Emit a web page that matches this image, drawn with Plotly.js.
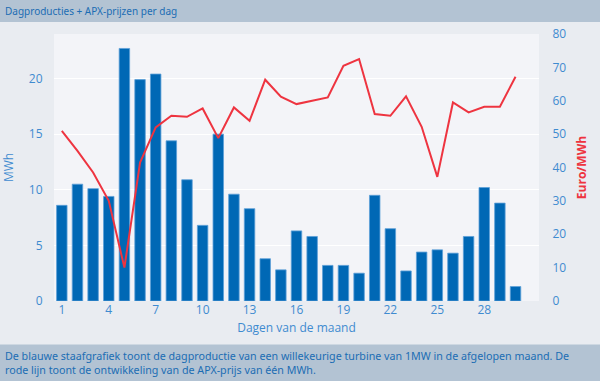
<!DOCTYPE html>
<html><head><meta charset="utf-8">
<script src="https://cdn.plot.ly/plotly-3.0.1.min.js"></script>
<style>html,body{margin:0;padding:0;background:#e9ecf1;}#chart{width:600px;height:381px;}</style>
</head><body><div id="chart"></div>
<script>
const days = [1,2,3,4,5,6,7,8,9,10,11,12,13,14,15,16,17,18,19,20,21,22,23,24,25,26,27,28,29,30];
const production = [8.6,10.5,10.1,9.4,22.7,19.9,20.4,14.4,10.9,6.8,15.0,9.6,8.3,3.8,2.8,6.3,5.8,3.2,3.2,2.5,9.5,6.5,2.7,4.4,4.6,4.3,5.8,10.2,8.8,1.3];
const price = [51,45,38.5,30,10,41.5,52,55.5,55.2,57.7,48.8,58,54,66.3,61.2,59,60,61,70.5,72.5,56,55.5,61.3,52.2,37.2,59.5,56.5,58.2,58.2,67.2];
const xTicks = [1,4,7,10,13,16,19,22,25,28];
const leftTicks = [0,5,10,15,20];
const rightTicks = [0,10,20,30,40,50,60,70,80];

const tickColor = '#3f8bd0';
const blue = '#0068b5';
const red = '#ee3440';
const band = '#b3c3d3';

// plot area: x 54..539, y 34..301
const L=54, R=61, T=34, B=80, W=485, H=267;
const px = v => (v - L)/W;
const py = v => (T + H - v)/H;

const traces = [
  {type:'bar', x:days, y:production, yaxis:'y', marker:{color:blue, line:{color:'#5d9fd8', width:0.8}}, hoverinfo:'skip'},
  {type:'scatter', mode:'lines', x:days, y:price, yaxis:'y2', line:{color:red, width:2}, hoverinfo:'skip'}
];

const layout = {
  width:600, height:381,
  margin:{l:L, r:R, t:T, b:B, pad:0},
  paper_bgcolor:'#e9ecf1',
  plot_bgcolor:'#f3f4f8',
  showlegend:false,
  bargap:0.33,
  font:{family:'Open Sans, sans-serif', size:12, color:tickColor},
  xaxis:{range:[0.5,31.5], tickvals:xTicks, ticktext:xTicks.map(String), showgrid:false, zeroline:false,
    tickfont:{color:tickColor, size:12}, ticks:'', ticklen:0,
    title:{text:'Dagen van de maand', font:{color:tickColor, size:12}, standoff:6}},
  yaxis:{range:[0,24], tickvals:leftTicks, ticktext:leftTicks.map(String), gridcolor:'#ffffff', gridwidth:1, zeroline:false,
    tickfont:{color:tickColor, size:12}, ticks:'outside', ticklen:8, tickcolor:'rgba(0,0,0,0)',
    title:{text:'MWh', font:{color:tickColor, size:12}, standoff:16}},
  yaxis2:{range:[0,80], overlaying:'y', side:'right', tickvals:rightTicks, ticktext:rightTicks.map(String), showgrid:false, zeroline:false,
    tickfont:{color:tickColor, size:12}, ticks:'outside', ticklen:10, tickcolor:'rgba(0,0,0,0)',
    title:{text:'<b>Euro/MWh</b>', font:{color:red, size:12}, standoff:12}},
  shapes:[
    {type:'rect', xref:'paper', yref:'paper', x0:px(0), x1:px(600), y0:py(22), y1:py(0), fillcolor:band, line:{width:0}, layer:'below'},
    {type:'rect', xref:'paper', yref:'paper', x0:px(0), x1:px(600), y0:py(381), y1:py(344.5), fillcolor:band, line:{width:0}, layer:'below'}
  ],
  annotations:[
    {xref:'paper', yref:'paper', x:px(3), y:py(11), xanchor:'left', yanchor:'middle', showarrow:false,
     text:'Dagproducties + APX-prijzen per dag', font:{family:'Noto Sans, sans-serif', size:10, color:'#1b6db3'}},
    {xref:'paper', yref:'paper', x:px(3), y:py(362.5), xanchor:'left', yanchor:'middle', align:'left', showarrow:false,
     text:'De blauwe staafgrafiek toont de dagproductie van een willekeurige turbine van 1MW in de afgelopen maand. De<br>rode lijn toont de ontwikkeling van de APX-prijs van één MWh.',
     font:{family:'Noto Sans, sans-serif', size:10.7, color:'#1b6db3'}}
  ]
};

Plotly.newPlot('chart', traces, layout, {displayModeBar:false, staticPlot:true});
</script></body></html>
